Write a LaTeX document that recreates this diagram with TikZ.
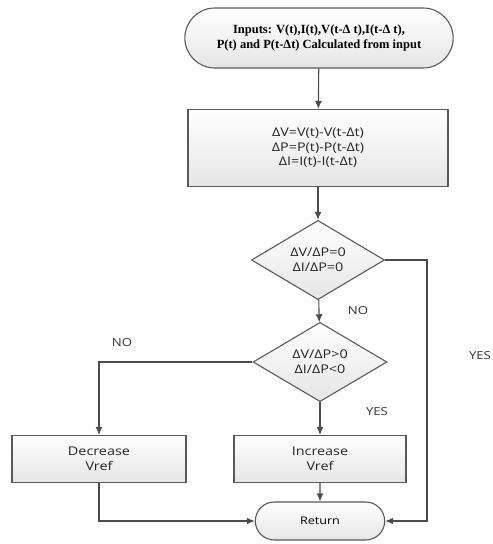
\documentclass[tikz,border=0pt]{standalone}
\usepackage{fontspec}
\setmainfont{Liberation Serif}
\setsansfont{Open Sans}[FakeStretch=1.2]
\usetikzlibrary{shapes.geometric,shapes.misc,arrows.meta}

\tikzset{
  boxfill/.style={draw=black!65, line width=1.1pt, top color=white, bottom color=black!10},
  term/.style={boxfill, rounded rectangle, align=center},
  procbox/.style={boxfill, rectangle, align=center, text=black!85, font=\sffamily\fontsize{12}{14.5}\selectfont},
  decide/.style={boxfill, diamond, inner sep=0pt, align=center, text=black!85, font=\sffamily\fontsize{12}{15}\selectfont},
  link/.style={draw=black!70, line width=1.1pt, -{Latex[length=8pt,width=7pt]}},
  lbl/.style={font=\sffamily\fontsize{11}{13}\selectfont, text=black!80}
}

\begin{document}
\begin{tikzpicture}[x=1pt, y=-1pt]
  \useasboundingbox (0,0) rectangle (493,544);

  % nodes
  \node[term, minimum width=275pt, minimum height=60pt,
        font=\bfseries\fontsize{12.5}{15}\selectfont] (inp) at (319,38)
        {Inputs: V(t),I(t),V(t-Δ t),I(t-Δ t),\\P(t) and P(t-Δt) Calculated from input};
  \node[procbox, minimum width=260pt, minimum height=77pt] (calc) at (318,148)
        {ΔV=V(t)-V(t-Δt)\\ΔP=P(t)-P(t-Δt)\\ΔI=I(t)-I(t-Δt)};
  \node[decide, minimum width=133pt, minimum height=57pt] (d1) at (318,260)
        {ΔV/ΔP=0\\ΔI/ΔP=0};
  \node[decide, minimum width=134pt, minimum height=57pt] (d2) at (320,362)
        {ΔV/ΔP>0\\ΔI/ΔP<0};
  \node[procbox, minimum width=174pt, minimum height=47pt] (dec) at (99,459)
        {Decrease\\Vref};
  \node[procbox, minimum width=172pt, minimum height=47pt] (inc) at (320,459)
        {Increase\\Vref};
  \node[term, minimum width=136pt, minimum height=38pt,
        font=\sffamily\fontsize{10.5}{13}\selectfont] (ret) at (320,521) {Return};

  \coordinate (rt) at (427,260);
  \coordinate (rb) at (427,521);

  % connectors
  \draw[link] (inp) -- (calc);
  \draw[link] (calc) -- (d1);
  \draw[link] (d1) -- (d2);
  \draw[link] (d2) -- (inc);
  \draw[link] (d2.west) -| (dec.north);
  \draw[link] (inc) -- (ret);
  \draw[link] (dec.south) |- (ret.west);
  \draw[link] (d1.east) -- (rt) -- (rb) -- (ret.east);

  % labels
  \node[lbl] (no1) at (358,311) {NO};
  \node[lbl] (no2) at (122,343) {NO};
  \node[lbl] (yes1) at (377,412) {YES};
  \node[lbl] (yes2) at (480,356) {YES};
\end{tikzpicture}
\end{document}
